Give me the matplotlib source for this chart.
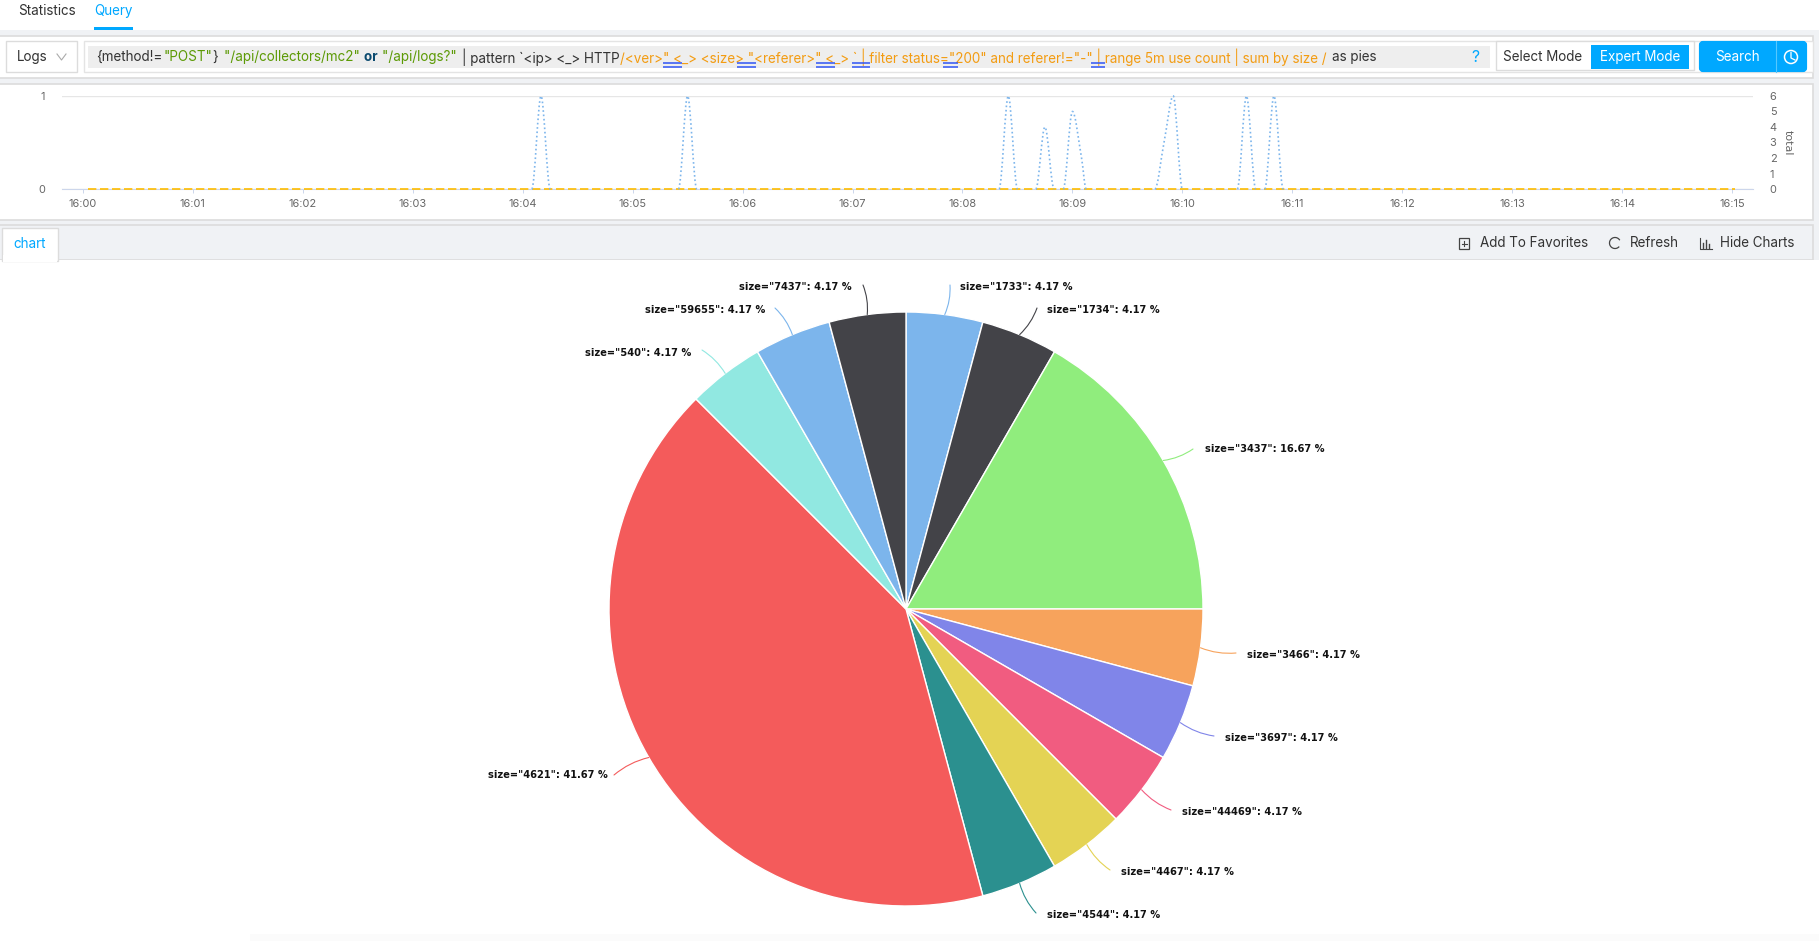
import numpy as np
import matplotlib
matplotlib.use("Agg")
import matplotlib.pyplot as plt
from matplotlib.patches import Rectangle, FancyBboxPatch, FancyArrowPatch, Circle, Arc, PathPatch
from matplotlib.path import Path

W, H = 1819, 941

# pie data
sizes = ["1733", "1734", "3437", "3466", "3697", "44469", "4467", "4544", "4621", "540", "59655", "7437"]
counts = [1, 1, 4, 1, 1, 1, 1, 1, 10, 1, 1, 1]
percents = ["4.17", "4.17", "16.67", "4.17", "4.17", "4.17", "4.17", "4.17", "41.67", "4.17", "4.17", "4.17"]
pie_colors = ["#7cb5ec", "#434348", "#90ed7d", "#f7a35c", "#8085e9", "#f15c80",
              "#e4d354", "#2b908f", "#f45b5b", "#91e8e1", "#7cb5ec", "#434348"]

# time chart data, minutes after 16:00, one list per burst
total_min = [[4.083, 4.167, 4.25], [5.417, 5.5, 5.583], [8.333, 8.417, 8.5],
             [8.667, 8.75, 8.833], [8.917, 9.0, 9.083, 9.125],
             [9.75, 9.833, 9.917, 10.0], [10.5, 10.583, 10.667], [10.75, 10.833, 10.917]]
total_val = [[0, 6, 0], [0, 6, 0], [0, 6, 0],
             [0, 4, 0], [0, 5, 2, 0],
             [0, 3, 6, 0], [0, 6, 0], [0, 6, 0]]
flat_min = [0.05, 15.03]
flat_val = [0, 0]
time_ticks = ["16:%02d" % m for m in range(16)]

# (x, y, ha) of each pie label, leader end x, y
label_pos = {
    "1733": (960, 287, "left", 950, 285),
    "1734": (1047, 310, "left", 1037, 308),
    "3437": (1205, 449, "left", 1193, 449),
    "3466": (1247, 655, "left", 1236, 653),
    "3697": (1225, 738, "left", 1214, 736),
    "44469": (1182, 812, "left", 1171, 810),
    "4467": (1121, 872, "left", 1110, 870),
    "4544": (1047, 915, "left", 1036, 913),
    "4621": (608, 775, "right", 614, 775),
    "540": (691, 353, "right", 702, 350),
    "59655": (765, 310, "right", 775, 308),
    "7437": (852, 287, "right", 863, 285),
}

BLUE = "#00a8ff"
TXT = "#333333"
GRAY = "#666666"
FONT = "Inter"


def px_axes(x0, y0, x1, y1):
    return fig.add_axes([x0 / W, 1 - y1 / H, (x1 - x0) / W, (y1 - y0) / H])


def spline_path(xs, ys):
    # smooth curve through the points, flat at the peaks like the original chart
    slopes = []
    for i in range(len(xs)):
        if i == 0 or i == len(xs) - 1 or (ys[i] - ys[i - 1]) * (ys[i + 1] - ys[i]) <= 0:
            slopes.append(0)
        else:
            slopes.append((ys[i + 1] - ys[i - 1]) / (xs[i + 1] - xs[i - 1]))
    verts = [(xs[0], ys[0])]
    codes = [Path.MOVETO]
    for i in range(len(xs) - 1):
        d = (xs[i + 1] - xs[i]) / 3
        verts += [(xs[i] + d, ys[i] + slopes[i] * d), (xs[i + 1] - d, ys[i + 1] - slopes[i + 1] * d), (xs[i + 1], ys[i + 1])]
        codes += [Path.CURVE4] * 3
    return Path(verts, codes)


fig = plt.figure(figsize=(W / 100, H / 100), dpi=100, facecolor="white")
plt.rcParams["font.family"] = [FONT, "DejaVu Sans"]

# page chrome, in pixels
ui = fig.add_axes([0, 0, 1, 1], zorder=0)
ui.set_xlim(0, W)
ui.set_ylim(H, 0)
ui.axis("off")


def box(x0, y0, x1, y1, fc="white", ec="none", lw=1, ax=ui, z=1):
    ax.add_patch(Rectangle((x0, y0), x1 - x0, y1 - y0, fc=fc, ec=ec, lw=lw, zorder=z))


def label(x, y, s, color=TXT, size=9.7, ha="left", **kw):
    return ui.text(x, y, s, color=color, fontsize=size, ha=ha, va="center", zorder=5, **kw)


box(0, 30, W, H, fc="#f0f2f5")
box(-2, 35.5, 1813, 78, ec="#dcdcdc", lw=1.2, z=2)
box(-2, 84, 1813, 220, ec="#dcdcdc", lw=1.2, z=2)
box(-2, 225, 1813, 260, fc="#f0f2f5", ec="#dcdcdc", lw=1.2, z=2)
box(-2, 260, W, H, z=2)
box(250, 934, W, H, fc="#fbfbfb", z=2)

# tabs
label(18, 11, "Statistics")
label(94, 11, "Query", color=BLUE)
box(94, 27, 133, 29.5, fc=BLUE, z=3)
box(2, 228, 58, 261, ec="#dcdcdc", z=3)
box(2.8, 255, 57.2, 262, z=3)
label(13, 244, "chart", color=BLUE)

# query row
box(5.5, 41, 77, 72, ec="#dcdcdc", z=3)
label(17, 57, "Logs")
ui.plot([57, 61.5, 66], [54, 60, 54], color="#aaaaaa", lw=0.8, zorder=5)
box(84, 41, 1813, 72, ec="#e4e4e4", z=3)
box(88, 46, 1490, 68, fc="#eeeeee", z=3)

query = [
    ('{method!=', TXT, "normal"),
    ('"POST"', "#5c9a05", "normal"),
    ('} ', TXT, "normal"),
    ('"/api/collectors/mc2" ', "#5c9a05", "normal"),
    ('or ', "#0b4a6f", "bold"),
    ('"/api/logs?" ', "#5c9a05", "normal"),
    ('| pattern `<ip> <_> HTTP', TXT, "normal"),
    ('/<ver>" <_> <size> "<referer>" <_> ` | filter status="200" and referer!="-" | range 5m use count | sum by size /',
     "#f39c12", "normal"),
    ('as pies', TXT, "normal"),
]
fig.canvas.draw()
rend = fig.canvas.get_renderer()
cx = 96
for seg, col, wt in query:
    t = label(cx, 57, seg, color=col, fontweight=wt)
    bb = t.get_window_extent(rend)
    cx = bb.x1 + 1
    if col == "#f39c12":
        cx += 4
for u0, u1 in [(663, 682), (736.5, 755.5), (816, 835), (852, 870), (943, 958), (1091, 1105)]:
    ui.plot([u0, u1], [63.2, 63.2], color="#2f55f5", lw=1.1, zorder=6, solid_capstyle="butt")
    ui.plot([u0, u1], [66.5, 66.5], color="#2f55f5", lw=1.1, zorder=6, solid_capstyle="butt")
label(1475, 57, "?", color=BLUE, size=11.5, ha="center")

box(1495.5, 41, 1694, 70, ec="#dcdcdc", z=3)
label(1543, 57, "Select Mode", ha="center")
box(1591, 45, 1689, 69, fc=BLUE, z=4)
label(1640, 57, "Expert Mode", color="white", ha="center")
ui.add_patch(FancyBboxPatch((1701, 43), 104, 27, boxstyle="round,pad=0,rounding_size=2", fc=BLUE, ec=BLUE, lw=3, zorder=4))
ui.plot([1776, 1776], [41, 72], color="#55c8ff", lw=0.8, zorder=5)
label(1737.5, 57, "Search", color="white", ha="center")
ui.add_patch(Circle((1791, 57), 6.5, fc="none", ec="white", lw=1.1, zorder=5))
ui.plot([1791, 1791, 1795], [52.5, 58, 60], color="white", lw=0.9, zorder=6)

# chart toolbar
label(1480, 243, "Add To Favorites")
box(1459, 238, 1469, 249, ec="#444444", fc="none", lw=0.9, z=5)
ui.plot([1461.5, 1466.5], [243.5, 243.5], color="#444444", lw=0.8, zorder=5)
ui.plot([1464, 1464], [241, 246], color="#444444", lw=0.8, zorder=5)
label(1630, 243, "Refresh")
ui.add_patch(Arc((1615, 243), 11, 11, theta1=40, theta2=330, color="#444444", lw=0.9, zorder=5))
label(1720, 243, "Hide Charts")
ui.plot([1700, 1700, 1712], [238, 249, 249], color="#444444", lw=0.8, zorder=5)
for bx, bt in zip([1703, 1706, 1709], [243, 240, 244]):
    ui.plot([bx, bx], [bt, 247.5], color="#444444", lw=1.0, zorder=5)

# time chart
ax = px_axes(62, 96, 1753, 189)
ax.set_zorder(3)
ax.patch.set_alpha(0)
ax.set_xlim(-0.19, 15.19)
ax.set_ylim(0, 1)
ax.set_yticks([0, 1])
ax.set_xticks(range(16))
ax.set_xticklabels(time_ticks)
ax.tick_params(axis="x", length=3, width=0.7, color="#ccd6eb", labelcolor=GRAY, labelsize=7.9, pad=4)
ax.tick_params(axis="y", length=0, labelcolor=GRAY, labelsize=7.9, pad=12)
ax.grid(axis="y", color="#e6e6e6", lw=1)
for s in ["top", "left", "right"]:
    ax.spines[s].set_visible(False)
ax.spines["bottom"].set_color("#ccd6eb")
ax.plot(flat_min, flat_val, color="#ffbc00", lw=1.2, ls=(0, (5, 2.2)), clip_on=False, zorder=5)

ax2 = ax.twinx()
ax2.set_zorder(4)
ax2.set_ylim(0, 6)
ax2.set_yticks(range(7))
ax2.tick_params(axis="y", length=0, labelcolor=GRAY, labelsize=7.9, pad=12)
for s in ax2.spines.values():
    s.set_visible(False)
for xs, ys in zip(total_min, total_val):
    ax2.add_patch(PathPatch(spline_path(xs, ys), fc="none", ec="#7cb5ec", lw=1.2, ls=(0, (1, 1.6)), clip_on=False))
ax2.set_ylabel("total", color=GRAY, fontsize=8, rotation=270, va="center", family="DejaVu Sans")
ax2.yaxis.set_label_coords(1.0207, 0.5)

# pie
CX, CY, R = 906, 609, 297
pie_ax = px_axes(CX - R, CY - R, CX + R, CY + R)
pie_ax.set_zorder(3)
pie_ax.patch.set_alpha(0)
wedges, _ = pie_ax.pie(counts, colors=pie_colors, startangle=90, counterclock=False, radius=1,
                       wedgeprops={"edgecolor": "white", "linewidth": 1.0})
pie_ax.set_xlim(-1, 1)
pie_ax.set_ylim(-1, 1)

ui.set_zorder(2)
over = fig.add_axes([0, 0, 1, 1], zorder=6)
over.set_xlim(0, W)
over.set_ylim(H, 0)
over.axis("off")
for w, size, pct, col in zip(wedges, sizes, percents, pie_colors):
    lx, ly, ha, ex, ey = label_pos[size]
    a = np.deg2rad((w.theta1 + w.theta2) / 2)
    sx, sy = CX + R * np.cos(a), CY - R * np.sin(a)
    over.add_patch(FancyArrowPatch((sx, sy), (ex, ey), arrowstyle="-", color=col, lw=0.8,
                                   connectionstyle="arc3,rad=0.12", shrinkA=0, shrinkB=0))
    over.text(lx, ly, 'size="%s": %s %%' % (size, pct), fontsize=7.1, fontweight="bold", color="#111111",
              ha=ha, va="center", family="DejaVu Sans")

fig.savefig("out.png", dpi=100)
